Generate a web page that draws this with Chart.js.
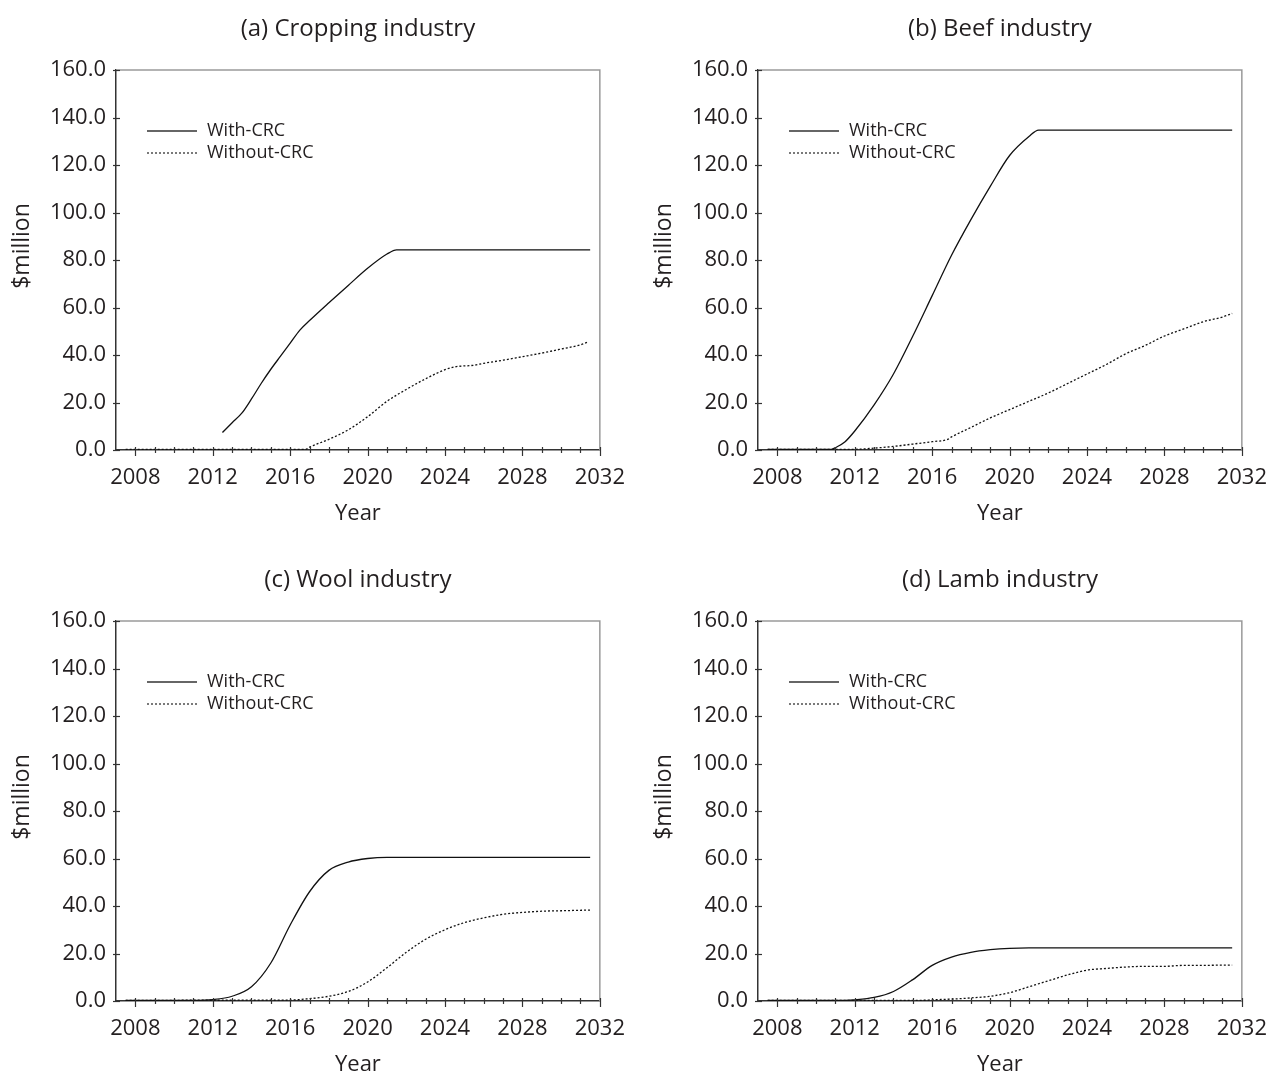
<!DOCTYPE html>
<html>
<head>
<meta charset="utf-8">
<script src="https://cdn.jsdelivr.net/npm/chart.js@4/dist/chart.umd.min.js"></script>
<style>
  html, body { margin: 0; padding: 0; background: #fff; overflow: hidden; }
  .panel { position: absolute; width: 640px; height: 540px; }
</style>
</head>
<body>
<div class="panel" style="left:0;top:0"><canvas id="chartA"></canvas></div>
<div class="panel" style="left:642px;top:0"><canvas id="chartB"></canvas></div>
<div class="panel" style="left:0;top:551px"><canvas id="chartC"></canvas></div>
<div class="panel" style="left:642px;top:551px"><canvas id="chartD"></canvas></div>
<script>
// ticks / labels
const yearTicks = [2008, 2012, 2016, 2020, 2024, 2028, 2032];
const valueTicks = [0, 20, 40, 60, 80, 100, 120, 140, 160];
const seriesNames = ["With-CRC", "Without-CRC"];

// (a) Cropping
const cropWithYears = [2012.5, 2013, 2013.5, 2014, 2014.5, 2015, 2015.5, 2016, 2016.5, 2017, 2018, 2019, 2020, 2021, 2021.5, 2031.5];
const cropWithValues = [7.4, 11.5, 15.5, 21.5, 28, 34, 39.5, 45, 50.5, 54.5, 62, 69.3, 76.5, 82.5, 84.3, 84.3];
const cropWithoutYears = [2007.5, 2010, 2014, 2016.8, 2017, 2018, 2019, 2020, 2021, 2022, 2023, 2024, 2024.5, 2025.5, 2026, 2027, 2028, 2029, 2030, 2031, 2031.4];
const cropWithoutValues = [0.3, 0.3, 0.3, 0.3, 1.2, 4.5, 8.5, 14, 20.5, 25.5, 30, 33.8, 35, 35.7, 36.5, 37.8, 39.3, 40.8, 42.5, 44.3, 45.5];

// (b) Beef
const beefWithYears = [2007.5, 2010.8, 2011, 2011.5, 2012, 2013, 2014, 2015, 2016, 2017, 2018, 2019, 2020, 2021, 2021.5, 2031.5];
const beefWithValues = [0.3, 0.3, 1, 3.5, 8, 19, 32, 48, 65, 82, 97, 111, 124, 132, 134.7, 134.7];
const beefWithoutYears = [2007.5, 2012, 2013, 2014, 2015, 2016, 2016.8, 2017, 2018, 2019, 2020, 2021, 2022, 2023, 2024, 2025, 2026, 2027, 2028, 2029, 2030, 2031, 2031.5];
const beefWithoutValues = [0.3, 0.3, 0.8, 1.5, 2.5, 3.5, 4.5, 5.5, 9.5, 13.5, 17, 20.5, 24, 28, 32, 36, 40.5, 44, 48, 51, 54, 56, 57.5];

// (c) Wool
const woolWithYears = [2007.5, 2011, 2012, 2013, 2014, 2015, 2016, 2017, 2018, 2019, 2020, 2021, 2031.5];
const woolWithValues = [0.3, 0.3, 0.6, 2, 6, 16, 32, 46, 55, 58.5, 60, 60.5, 60.5];
const woolWithoutYears = [2007.5, 2016, 2017, 2018, 2019, 2020, 2021, 2022, 2023, 2024, 2025, 2026, 2027, 2028, 2029, 2030, 2031, 2031.5];
const woolWithoutValues = [0.3, 0.4, 1, 2, 4, 8, 14, 20.5, 26, 30, 33, 35, 36.5, 37.3, 37.8, 38, 38.2, 38.3];

// (d) Lamb
const lambWithYears = [2007.5, 2011.5, 2012, 2013, 2014, 2015, 2016, 2017, 2018, 2019, 2020, 2021, 2031.5];
const lambWithValues = [0.3, 0.3, 0.5, 1.5, 4, 9, 15, 18.5, 20.5, 21.6, 22.2, 22.4, 22.4];
const lambWithoutYears = [2007.5, 2015.5, 2016, 2017, 2018, 2019, 2020, 2021, 2022, 2023, 2024, 2025, 2026, 2027, 2028, 2029, 2030, 2031, 2031.5];
const lambWithoutValues = [0.3, 0.3, 0.5, 0.8, 1.3, 2, 3.5, 6, 8.5, 11, 13, 13.7, 14.3, 14.6, 14.6, 15, 15, 15.1, 15.1];

const FONT = "'Open Sans', 'Noto Sans', sans-serif";
const INK = "#231f20";

function toPoints(xs, ys) {
    return xs.map((x, i) => ({ x: x, y: ys[i] }));
}

// titre, legende, cadre et graduations
const decorPlugin = {
    id: "decor",
    beforeDatasetsDraw(chart) {
        const { ctx, chartArea: a } = chart;
        ctx.save();
        ctx.strokeStyle = "#9a9a9a";
        ctx.lineWidth = 1.5;
        ctx.beginPath();
        ctx.moveTo(a.left, a.top);
        ctx.lineTo(a.right, a.top);
        ctx.lineTo(a.right, a.bottom);
        ctx.stroke();
        ctx.restore();
    },
    afterDraw(chart) {
        const { ctx, chartArea: a, scales } = chart;
        const xs = scales.x, ys = scales.y;
        ctx.save();
        ctx.strokeStyle = "#333";
        ctx.lineWidth = 1.2;
        // x ticks
        for (let yr = 2008; yr <= 2032; yr++) {
            const px = Math.round(xs.getPixelForValue(yr)) + 0.5;
            const major = yearTicks.includes(yr);
            ctx.beginPath();
            ctx.moveTo(px, a.bottom - 3);
            ctx.lineTo(px, a.bottom + (major ? 6 : 3));
            ctx.stroke();
        }
        // y ticks
        valueTicks.forEach(v => {
            const py = Math.round(ys.getPixelForValue(v)) + 0.5;
            ctx.beginPath();
            ctx.moveTo(a.left - 3, py);
            ctx.lineTo(a.left + 4, py);
            ctx.stroke();
        });
        ctx.fillStyle = INK;
        // y axis title
        ctx.save();
        ctx.translate(22, 246);
        ctx.rotate(-Math.PI / 2);
        ctx.font = "23px " + FONT;
        ctx.textAlign = "center";
        ctx.textBaseline = "middle";
        ctx.fillText("$million", 0, 0);
        ctx.restore();
        // title
        ctx.font = "24px " + FONT;
        ctx.textAlign = "center";
        ctx.textBaseline = "middle";
        ctx.fillText(chart.options.plugins.decor.title, (a.left + a.right) / 2, 29);
        // legend
        ctx.font = "18px " + FONT;
        ctx.textAlign = "left";
        ctx.lineWidth = 1.3;
        seriesNames.forEach((name, i) => {
            const ly = a.top + 61 + i * 22;
            ctx.setLineDash(i === 0 ? [] : [2, 2]);
            ctx.beginPath();
            ctx.moveTo(a.left + 31, ly);
            ctx.lineTo(a.left + 81, ly);
            ctx.stroke();
            ctx.fillText(name, a.left + 91, ly);
        });
        ctx.restore();
    }
};

function makeChart(id, title, withYears, withValues, withoutYears, withoutValues) {
    const ctx = document.getElementById(id).getContext("2d");
    return new Chart(ctx, {
        type: "line",
        data: {
            datasets: [
                {
                    label: seriesNames[0],
                    data: toPoints(withYears, withValues),
                    borderColor: "#111",
                    borderWidth: 1.3,
                    pointRadius: 0,
                    cubicInterpolationMode: "monotone"
                },
                {
                    label: seriesNames[1],
                    data: toPoints(withoutYears, withoutValues),
                    borderColor: "#111",
                    borderWidth: 1.3,
                    borderDash: [2, 2],
                    pointRadius: 0,
                    cubicInterpolationMode: "monotone"
                }
            ]
        },
        options: {
            responsive: false,
            animation: false,
            devicePixelRatio: 1,
            layout: { padding: { top: 70, left: 0, right: 33, bottom: 0 } },
            plugins: {
                legend: { display: false },
                tooltip: { enabled: false },
                decor: { title: title }
            },
            scales: {
                x: {
                    type: "linear",
                    min: 2007,
                    max: 2032,
                    afterFit: s => { s.height = 90; },
                    afterBuildTicks: s => { s.ticks = yearTicks.map(v => ({ value: v })); },
                    grid: { display: true, drawOnChartArea: false, drawTicks: false, color: "rgba(0,0,0,0)" },
                    border: { display: true, color: "#333", width: 1.5 },
                    ticks: {
                        color: INK,
                        font: { family: FONT, size: 22 },
                        padding: 15,
                        maxRotation: 0,
                        callback: v => String(v)
                    },
                    title: {
                        display: true,
                        text: "Year",
                        color: INK,
                        font: { family: FONT, size: 22 },
                        padding: { top: 0, bottom: 13 }
                    }
                },
                y: {
                    min: 0,
                    max: 160,
                    afterFit: s => { s.width = 116; },
                    afterBuildTicks: s => { s.ticks = valueTicks.map(v => ({ value: v })); },
                    grid: { display: true, drawOnChartArea: false, drawTicks: false, color: "rgba(0,0,0,0)" },
                    border: { display: true, color: "#333", width: 1.5 },
                    ticks: {
                        color: INK,
                        font: { family: FONT, size: 22 },
                        padding: 10,
                        callback: v => v.toFixed(1)
                    },
                    title: { display: false }
                }
            }
        },
        plugins: [decorPlugin]
    });
}

["chartA", "chartB", "chartC", "chartD"].forEach(id => {
    const c = document.getElementById(id);
    c.width = 640;
    c.height = 540;
});

makeChart("chartA", "(a) Cropping industry", cropWithYears, cropWithValues, cropWithoutYears, cropWithoutValues);
makeChart("chartB", "(b) Beef industry", beefWithYears, beefWithValues, beefWithoutYears, beefWithoutValues);
makeChart("chartC", "(c) Wool industry", woolWithYears, woolWithValues, woolWithoutYears, woolWithoutValues);
makeChart("chartD", "(d) Lamb industry", lambWithYears, lambWithValues, lambWithoutYears, lambWithoutValues);
</script>
</body>
</html>
